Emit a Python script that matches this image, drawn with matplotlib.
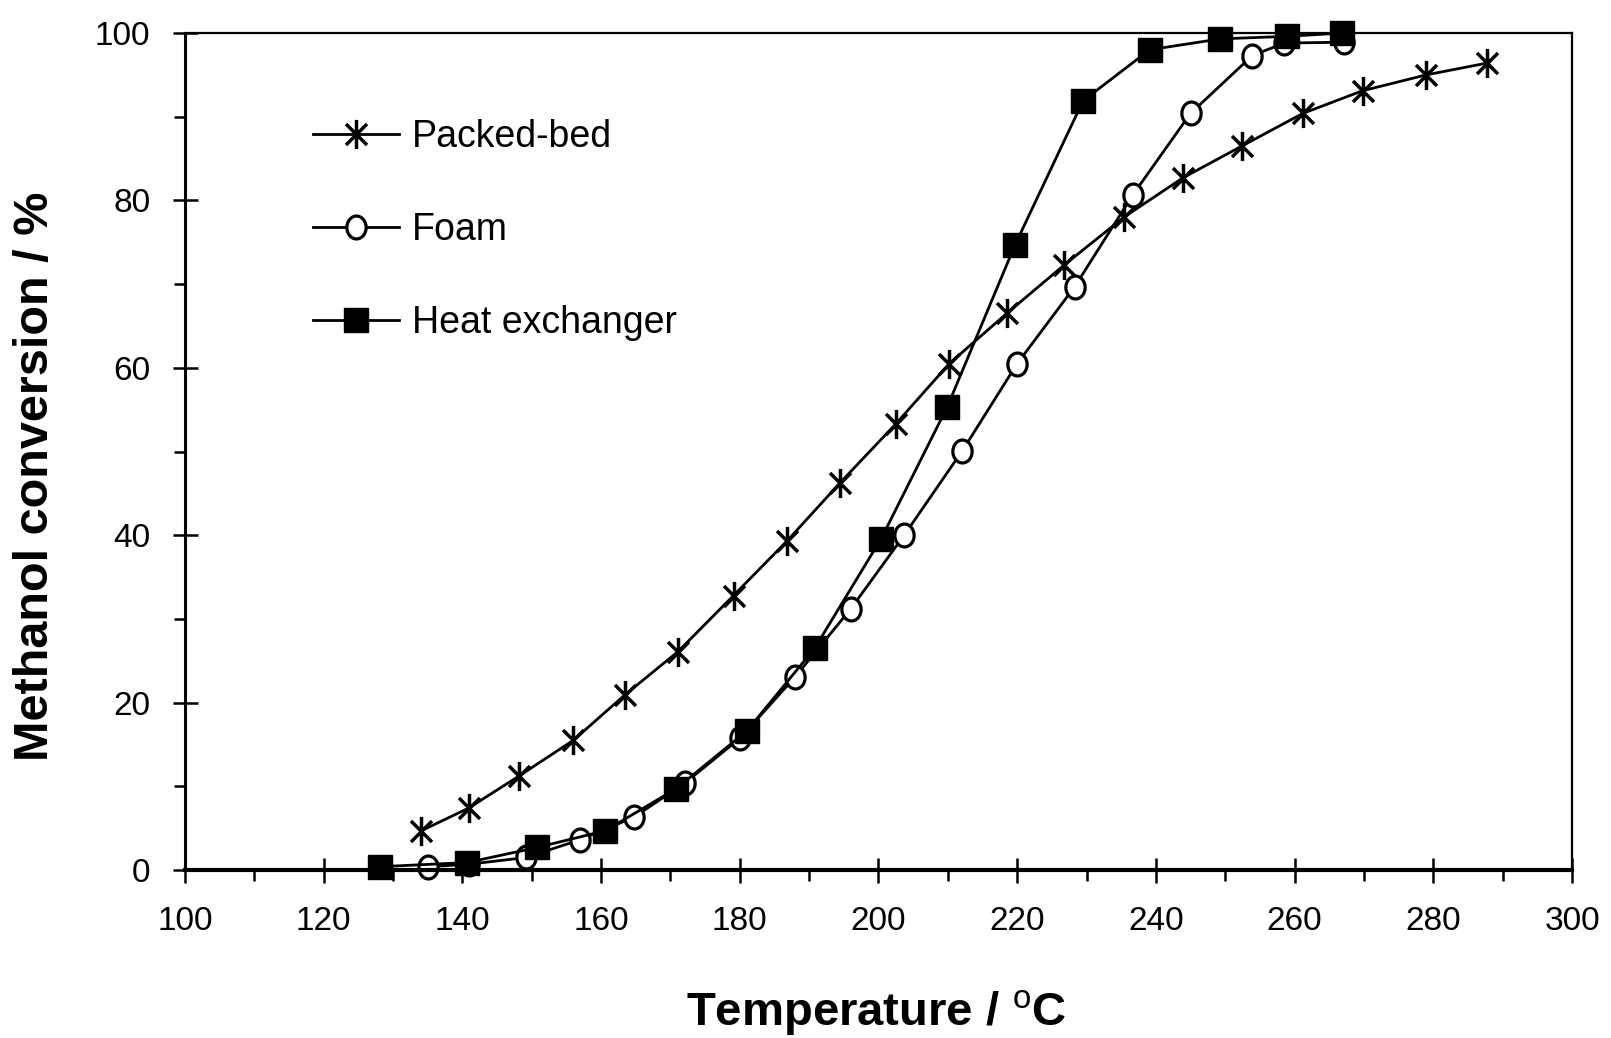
import numpy as np
import matplotlib
matplotlib.use("Agg")
import matplotlib.pyplot as plt
from matplotlib.ticker import MultipleLocator
from matplotlib.path import Path
from matplotlib.transforms import Affine2D

plt.rcParams['font.family'] = ['Liberation Sans', 'DejaVu Sans']
plt.rcParams['mathtext.fontset'] = 'custom'
plt.rcParams['mathtext.rm'] = 'Liberation Sans'

# data
packed_T = [134.1, 140.9, 148.1, 156.0, 163.4, 171.1, 179.1, 186.8, 194.5, 202.5,
            210.2, 218.5, 226.8, 235.4, 243.9, 252.4, 261.2, 269.8, 279.0, 287.7]
packed_X = [4.7, 7.4, 11.2, 15.5, 20.9, 26.1, 32.8, 39.3, 46.3, 53.3,
            60.5, 66.5, 72.3, 78.0, 82.7, 86.5, 90.4, 93.1, 95.0, 96.4]

foam_T = [135.1, 141.0, 149.2, 156.9, 164.7, 172.1, 180.1, 188.0, 196.0, 203.7,
          212.1, 220.0, 228.3, 236.7, 245.0, 253.9, 258.5, 267.1]
foam_X = [0.4, 0.7, 1.5, 3.6, 6.3, 10.4, 15.8, 23.1, 31.2, 40.0,
          50.1, 60.5, 69.7, 80.7, 90.4, 97.3, 98.8, 98.9]

hex_T = [128.1, 140.7, 150.8, 160.6, 170.8, 181.0, 190.8, 200.4, 209.9, 219.7,
         229.5, 239.1, 249.3, 258.9, 266.9]
hex_X = [0.4, 0.9, 2.7, 4.7, 9.7, 16.6, 26.5, 39.6, 55.3, 74.7,
         91.9, 98.0, 99.3, 99.6, 100.0]

# excel-style asterisk: vertical bar plus an X
d = 0.72
star = Path([(0, -1), (0, 1), (-d, -d), (d, d), (-d, d), (d, -d)],
            [Path.MOVETO, Path.LINETO] * 3)
# slightly tall open circle
oval = Path.unit_circle().transformed(Affine2D().scale(0.84, 1.0))

fig = plt.figure(figsize=(16.11, 10.38), dpi=100)
ax = fig.add_axes([0.1148, 0.1618, 0.8610, 0.8064])

lw = 2.0
ax.plot(packed_T, packed_X, color='k', lw=lw, marker=star, ms=21, mew=2.5,
        label='Packed-bed', clip_on=False)
ax.plot(foam_T, foam_X, color='k', lw=lw, marker=oval, ms=16.5, mew=2.3,
        mfc='white', label='Foam', clip_on=False)
ax.plot(hex_T, hex_X, color='k', lw=lw, marker='s', ms=17, mew=1.0,
        mfc='k', label='Heat exchanger', clip_on=False)

ax.set_xlim(100, 300)
ax.set_ylim(0, 100)
ax.xaxis.set_major_locator(MultipleLocator(20))
ax.xaxis.set_minor_locator(MultipleLocator(10))
ax.yaxis.set_major_locator(MultipleLocator(20))
ax.yaxis.set_minor_locator(MultipleLocator(10))

ax.spines['bottom'].set_linewidth(3.0)
ax.spines['left'].set_linewidth(2.2)
ax.spines['top'].set_linewidth(1.6)
ax.spines['right'].set_linewidth(1.6)

ax.tick_params(which='major', direction='inout', length=18, width=1.8,
               labelsize=24, top=False, right=False)
ax.tick_params(which='minor', direction='out', length=8, width=1.8,
               top=False, right=False)
ax.tick_params(axis='x', which='major', pad=17)
ax.tick_params(axis='y', which='major', pad=16)

fig.text(0.544, 0.0125, 'Temperature / $^{\\mathrm{o}}$C', ha='center', va='baseline',
         fontsize=34, fontweight='bold')
fig.text(0.0223, 0.541, 'Methanol conversion / %', ha='center', va='center',
         rotation=90, fontsize=35, fontweight='bold')

leg = ax.legend(loc='upper left', bbox_to_anchor=(0.092, 0.897), frameon=False,
                fontsize=27, handlelength=2.3, handletextpad=0.35,
                labelspacing=1.52, numpoints=1, borderpad=0, borderaxespad=0)

fig.savefig('out.png', dpi=100)
